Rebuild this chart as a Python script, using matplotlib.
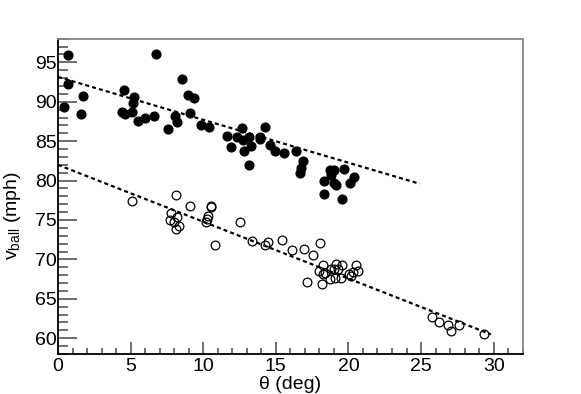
import matplotlib
matplotlib.use("Agg")
import matplotlib.pyplot as plt
import numpy as np
from matplotlib.ticker import MultipleLocator

# filled markers (upper set)
theta_filled = [0.39, 0.67, 0.69, 1.59, 1.75, 4.57, 4.41, 4.60, 5.26, 5.15,
                5.13, 5.54, 6.02, 6.62, 6.74, 7.59, 8.07, 8.21, 8.57, 8.94,
                9.38, 9.06, 9.82, 10.41, 11.61, 11.88, 12.32, 12.69, 12.74, 12.80,
                13.13, 13.26, 13.13, 13.88, 13.90, 14.25, 14.62, 14.92, 15.56, 16.41,
                16.87, 16.73, 16.69, 18.71, 18.99, 18.80, 18.34, 19.12, 19.03, 19.72,
                20.09, 20.41, 18.32, 19.59]
v_filled = [89.3, 95.9, 92.2, 88.4, 90.7, 91.5, 88.75, 88.5, 90.6, 89.8,
            88.7, 87.5, 87.9, 88.2, 96.1, 86.5, 88.2, 87.4, 92.9, 90.8,
            90.5, 88.6, 87.1, 86.8, 85.6, 84.2, 85.5, 86.7, 85.2, 83.7,
            85.5, 84.4, 82.0, 85.5, 85.3, 86.8, 84.5, 83.8, 83.5, 83.75,
            82.5, 81.6, 81.0, 81.3, 81.3, 80.7, 79.9, 79.4, 79.7, 81.5,
            79.7, 80.4, 78.3, 77.7]

# open markers (lower set)
theta_open = [5.10, 8.11, 9.10, 7.79, 8.18, 7.68, 8.00, 8.32, 8.11, 10.53,
              10.51, 10.32, 10.25, 10.20, 12.55, 10.78, 13.37, 14.25, 14.48, 15.40,
              16.08, 16.97, 17.56, 18.02, 17.17, 18.18, 18.23, 18.00, 18.23, 18.41,
              18.81, 18.99, 19.17, 19.26, 19.56, 18.76, 19.10, 19.50, 20.07, 20.19,
              20.50, 20.64, 20.32, 25.72, 26.25, 26.85, 27.08, 27.61, 29.36]
v_open = [77.4, 78.2, 76.8, 75.9, 75.4, 75.0, 74.75, 74.3, 73.8, 76.8,
          76.6, 75.5, 75.1, 74.75, 74.75, 71.8, 72.3, 71.8, 72.2, 72.5,
          71.2, 71.3, 70.6, 72.1, 67.1, 66.9, 69.3, 68.5, 68.1, 68.3,
          68.8, 68.8, 69.4, 68.8, 69.3, 67.5, 67.65, 67.7, 68.2, 67.95,
          69.3, 68.5, 68.4, 62.7, 62.0, 61.7, 60.9, 61.7, 60.5]

# fit lines (end points)
fit_upper_x = [0.0, 24.9]
fit_upper_y = [93.15, 79.6]
fit_lower_x = [0.0, 29.8]
fit_lower_y = [82.0, 60.5]

plt.rcParams["font.family"] = ["Liberation Sans", "DejaVu Sans"]
plt.rcParams["mathtext.fontset"] = "custom"
plt.rcParams["mathtext.rm"] = "Liberation Sans"

FS = 14

fig = plt.figure(figsize=(5.81, 3.94), dpi=100)
ax = fig.add_axes([58 / 581, 1 - 354 / 394, (522.7 - 58) / 581, (354 - 38.7) / 394])

ax.plot(fit_upper_x, fit_upper_y, color="black", lw=1.6, linestyle=(0, (1.8, 1.4)))
ax.plot(fit_lower_x, fit_lower_y, color="black", lw=1.6, linestyle=(0, (1.8, 1.4)))

ax.plot(theta_filled, v_filled, "o", color="black", markersize=6.3, zorder=3)
ax.plot(theta_open, v_open, "o", mfc="none", mec="black", mew=0.9,
        markersize=6.3, zorder=3)

ax.set_xlim(0, 32)
ax.set_ylim(58, 98)

ax.xaxis.set_major_locator(MultipleLocator(5))
ax.xaxis.set_minor_locator(MultipleLocator(1))
ax.yaxis.set_major_locator(MultipleLocator(5))
ax.yaxis.set_minor_locator(MultipleLocator(1))

ax.tick_params(axis="both", which="both", direction="in", top=False, right=False,
               color="#555555", labelsize=FS)
ax.tick_params(axis="y", which="major", length=14, width=1.2)
ax.tick_params(axis="y", which="minor", length=7, width=1.2)
ax.tick_params(axis="x", which="major", length=9, width=1.2)
ax.tick_params(axis="x", which="minor", length=4.5, width=1.2)
ax.tick_params(axis="x", pad=3)
ax.tick_params(axis="y", pad=1)

for side in ["left", "bottom"]:
    ax.spines[side].set_color("black")
    ax.spines[side].set_linewidth(1.3)
for side in ["top", "right"]:
    ax.spines[side].set_color("#888888")
    ax.spines[side].set_linewidth(1.3)

ax.set_xlabel("θ (deg)", fontsize=FS)
ax.set_ylabel(r"v$_{\mathregular{ball}}$ (mph)", fontsize=FS)
ax.yaxis.set_label_coords(-0.075, 0.44)
ax.xaxis.set_label_coords(0.5, -0.07)

fig.savefig("out.png", dpi=100)
